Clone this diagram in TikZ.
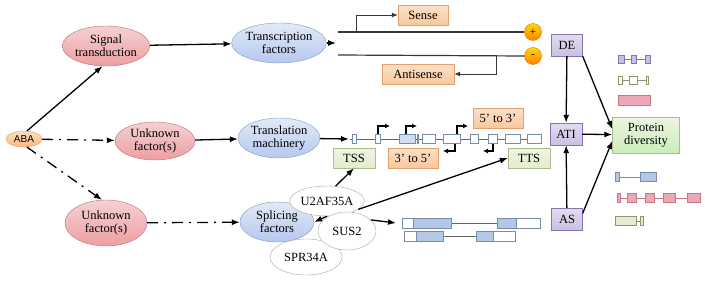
\documentclass[tikz,border=0pt]{standalone}
\usepackage{fontspec}
\setmainfont{Liberation Serif}
\newfontfamily\abafont{Liberation Sans}
\usetikzlibrary{arrows.meta, positioning, shapes.geometric}
\definecolor{pinkfill}{RGB}{236,172,176}
\definecolor{pinkline}{RGB}{190,110,120}
\definecolor{bluefill}{RGB}{196,214,238}
\definecolor{blueline}{RGB}{130,155,190}
\definecolor{orfill}{RGB}{249,200,156}
\definecolor{orline}{RGB}{228,160,110}
\definecolor{grfill}{RGB}{228,236,208}
\definecolor{grline}{RGB}{172,188,140}
\definecolor{pufill}{RGB}{202,192,226}
\definecolor{puline}{RGB}{135,115,175}
\definecolor{exline}{RGB}{120,140,172}
\definecolor{exblue}{RGB}{178,200,230}
\definecolor{legpink}{RGB}{236,168,180}
\definecolor{legpinkline}{RGB}{200,118,134}
\definecolor{strandgray}{RGB}{55,55,55}
\tikzset{
  hormone/.style={ellipse,draw=orline,top color=orfill!60!white,bottom color=orfill!80!orange,inner sep=0pt,minimum width=36pt,minimum height=16pt,font=\abafont\fontsize{10}{10}\selectfont},
  cause/.style={ellipse,draw=pinkline,top color=pinkfill!55!white,bottom color=pinkfill!90!red!80!pinkfill,align=center,inner sep=0pt,minimum width=82pt,minimum height=40pt},
  factor/.style={ellipse,draw=blueline,top color=bluefill!50!white,bottom color=bluefill!90!blue!70!bluefill,align=center,inner sep=0pt,minimum width=82pt,minimum height=40pt},
  protein/.style={ellipse,draw=gray!70,fill=white,inner sep=0pt},
  tag/.style={rectangle,draw=orline,top color=orfill!55!white,bottom color=orfill,inner sep=0pt,minimum width=50pt,minimum height=20pt},
  site/.style={rectangle,draw=grline,top color=grfill!60!white,bottom color=grfill,inner sep=0pt,minimum width=42pt,minimum height=20pt},
  mode/.style={rectangle,draw=puline,top color=pufill!55!white,bottom color=pufill,inner sep=0pt,minimum width=31pt,minimum height=22pt},
  result/.style={rectangle,draw=grline,top color=grfill!60!white,bottom color=grfill!80!green!60!grfill,align=center,inner sep=0pt,minimum width=67pt,minimum height=36pt},
  sign/.style={circle,draw=orange!90!black,top color=yellow!70!orange,bottom color=orange,inner sep=0pt,minimum size=17pt,font=\fontsize{11}{11}\selectfont},
  line/.style={-{Latex[length=8pt,width=6pt]},line width=1.3pt},
  dashline/.style={line,dash pattern=on 11pt off 6pt on 2pt off 6pt},
  bent/.style={-{Latex[length=6pt,width=5pt]},line width=1pt,draw=strandgray},
  strand/.style={line width=1.2pt,draw=strandgray},
  gene/.style={line width=0.8pt,draw=gray!80!black},
  exon/.style={line width=0.8pt,draw=exline,fill=white},
  start/.style={-{Latex[length=5pt,width=5pt]},line width=1.1pt}
}
\begin{document}
\begin{tikzpicture}[x=1pt,y=-1pt,font=\fontsize{12.5}{13}\selectfont]
\useasboundingbox (0,0) rectangle (705,281);
\node[hormone] (aba) at (24,139) {ABA};
\node[cause] (sig) at (106,46) {Signal\\transduction};
\node[cause, minimum width=80pt, minimum height=38pt] (unk1) at (155,141) {Unknown\\factor(s)};
\node[cause, minimum height=46pt] (unk2) at (106,223) {Unknown\\factor(s)};
\node[factor] (tf) at (279,43) {Transcription\\factors};
\node[factor] (tm) at (279,138) {Translation\\machinery};
\node[factor, minimum width=74pt] (sf) at (277,222) {Splicing\\factors};
\node[protein, minimum width=72pt, minimum height=36pt] (spr) at (306,257) {SPR34A};
\node[protein, minimum width=70pt, minimum height=30pt] (u2) at (327,201) {U2AF35A};
\node[protein, minimum width=58pt, minimum height=38pt] (sus) at (347,231) {SUS2};
\draw[line] (aba.70) -- (sig.260);
\draw[line] (sig) -- (tf);
\draw[dashline] (aba) -- (unk1);
\draw[line] (unk1) -- (tm);
\draw[dashline] (aba.-70) -- (unk2.100);
\draw[dashline] (unk2) -- (sf);
\node[sign] (plus) at (533,32) {+};
\node[sign] (minus) at (533,56) {-};
\coordinate (top5) at (338,32);
\coordinate (bot5) at (338,55);
\coordinate (gap) at (336,43);
\draw[strand] (top5) -- (plus.west);
\draw[strand] (bot5) -- (minus.west);
\draw[line] (tf) -- (gap);
\node[tag] (sense) at (423,15) {Sense};
\node[tag, minimum width=72pt] (anti) at (418,74) {Antisense};
\coordinate (sp) at (356,32);
\coordinate (ap) at (496,55);
\draw[bent] (sp) |- (sense);
\draw[bent] (ap) |- (anti);
\coordinate (tx) at (349,139);
\draw[line] (tm) -- (tx);
\draw[gene] (350,139) -- (541,139);
\foreach \a/\b in {352/356, 375/380, 422/435, 443/460, 470/478, 488/497, 505/520, 527/541}
  \draw[exon] (\a,134.5) rectangle (\b,143.5);
\draw[exon, fill=exblue!60!white] (399,134.5) rectangle (415,143.5);
\draw[exon] (417,134.5) rectangle (418,143.5);
\foreach \x/\e in {378/390, 406/417, 457/468}
  \draw[start] (\x,134) |- (\e,126);
\foreach \x/\e in {455/443, 493/483}
  \draw[start] (\x,144) |- (\e,151);
\node[tag] (f53) at (498,118) {5' to 3'};
\node[tag] (r35) at (413,158) {3' to 5'};
\node[site] (tss) at (354,158) {TSS};
\node[site] (tts) at (529,158) {TTS};
\draw[line] (u2.60) -- (tss.south);
\draw[line] (u2.-15) -- (tts.west);
\draw[line] (u2.south) -- (sf.east);
\coordinate (spl) at (396,223);
\draw[line] (sus.25) -- (spl);
\draw[gene] (451,223) -- (497,223);
\draw[gene] (443,236) -- (476,236);
\foreach \a/\b/\c in {402/413/white, 413/451/exblue, 497/516/exblue, 516/540/white}
  \draw[exon, fill=\c] (\a,218) rectangle (\b,228);
\foreach \a/\b/\c in {404/416/white, 416/443/exblue, 476/493/exblue, 493/515/white}
  \draw[exon, fill=\c] (\a,231) rectangle (\b,241);
\node[mode] (de) at (567,45) {DE};
\node[mode, minimum width=32pt] (ati) at (566,134) {ATI};
\node[mode] (as) at (567,219) {AS};
\node[result] (pd) at (646,135) {Protein\\diversity};
\draw[line] (de) -- (ati);
\draw[line] (as) -- (ati);
\draw[line] (ati) -- (pd);
\draw[line] (de.south east) -- (pd.170);
\draw[line] (as.20) -- (pd.190);
\draw[gene, draw=puline] (618,59) -- (650,59);
\foreach \a/\b in {618/624, 631/636, 645/650}
  \draw[exon, draw=puline, fill=pufill] (\a,55) rectangle (\b,63);
\draw[gene, draw=grline!80!black] (618,80) -- (648,80);
\foreach \a/\b in {618/622, 629/637, 646/648}
  \draw[exon, draw=grline!80!black, fill=white] (\a,76) rectangle (\b,84);
\draw[exon, draw=legpinkline, fill=legpink] (618,95) rectangle (650,105);
\draw[gene, draw=exline] (619,177) -- (640,177);
\draw[exon, fill=exblue] (615,172.5) rectangle (619,181.5);
\draw[exon, fill=exblue] (640,172.5) rectangle (656,181.5);
\draw[gene, draw=legpinkline] (617,198) -- (700,198);
\foreach \a/\b in {617/620, 627/636, 645/654, 663/675, 687/700}
  \draw[exon, draw=legpinkline, fill=legpink] (\a,193.5) rectangle (\b,202.5);
\draw[gene, draw=grline!80!black] (636,221) -- (640,221);
\draw[exon, draw=grline!80!black, fill=grfill] (615,216.5) rectangle (636,225.5);
\draw[exon, draw=grline!80!black, fill=grfill] (640,216.5) rectangle (643,225.5);
\end{tikzpicture}
\end{document}
